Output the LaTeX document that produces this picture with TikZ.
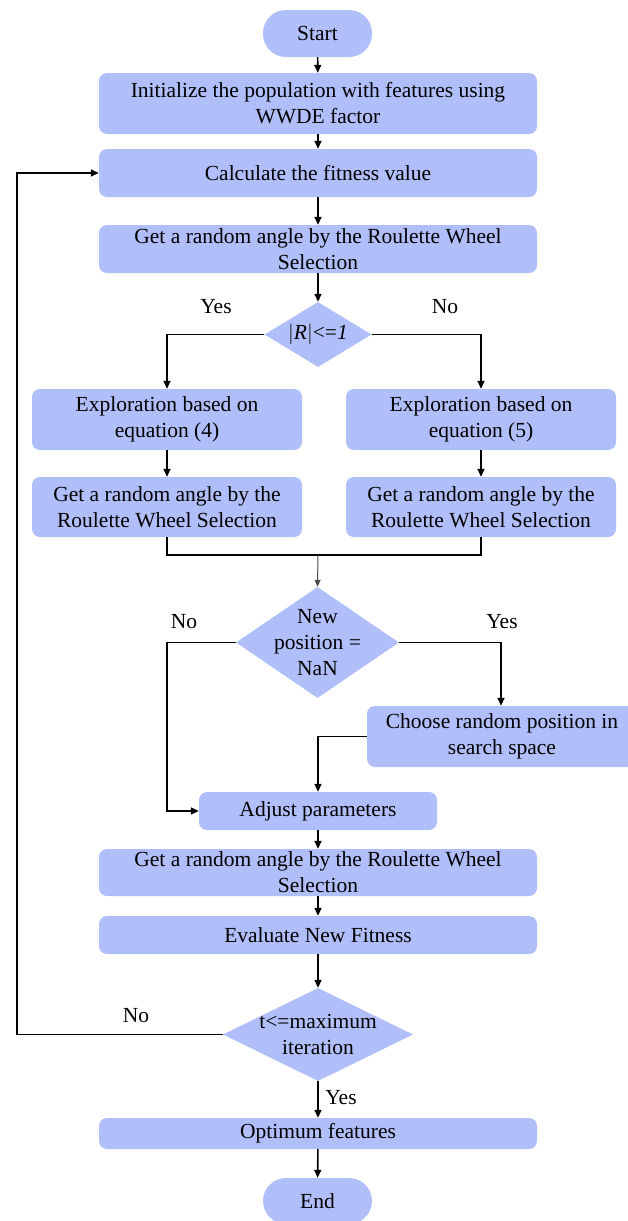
\documentclass[tikz,border=0pt]{standalone}
\usepackage{fontspec}
\setmainfont{Liberation Serif}
\usetikzlibrary{shapes.geometric,arrows.meta}
\definecolor{boxfill}{RGB}{176,190,250}
\begin{document}
\begin{tikzpicture}[x=1pt,y=-1pt,
  every node/.style={font=\fontsize{21.5}{26}\selectfont},
  procbox/.style={draw=none,fill=boxfill,rounded corners=8pt,align=center,inner sep=0pt},
  termbox/.style={draw=none,fill=boxfill,rounded corners=23pt,align=center,inner sep=0pt,minimum width=109pt},
  decbox/.style={draw=none,fill=boxfill,diamond,inner sep=0pt},
  conn/.style={line width=1.6pt,-{Triangle[length=8pt,width=7pt]}},
  plain/.style={line width=1.6pt},
  lbl/.style={inner sep=0pt}]
\useasboundingbox (0,0) rectangle (627,1221);
\node[termbox,minimum height=47pt] (start) at (317.5,33.5) {Start};
\node[procbox,minimum width=438pt,minimum height=61pt] (init) at (318,103.5) {Initialize the population with features using\\WWDE factor};
\node[procbox,minimum width=438pt,minimum height=48pt] (calc) at (318,173) {Calculate the fitness value};
\node[procbox,minimum width=438pt,minimum height=48pt] (rws1) at (318,249) {Get a random angle by the Roulette Wheel\\Selection};
\node[decbox,minimum width=107pt,minimum height=65pt,label={center:$|$\textit{R}$|$<=\textit{1}}] (dR) at (318,334.5) {};
\node[procbox,minimum width=270pt,minimum height=61pt] (exL) at (167,419.5) {Exploration based on\\equation (4)};
\node[procbox,minimum width=270pt,minimum height=61pt] (exR) at (481,419.5) {Exploration based on\\equation (5)};
\node[procbox,minimum width=270pt,minimum height=60pt] (rwsL) at (167,507) {Get a random angle by the\\Roulette Wheel Selection};
\node[procbox,minimum width=270pt,minimum height=60pt] (rwsR) at (481,507) {Get a random angle by the\\Roulette Wheel Selection};
\coordinate (mL) at (167,555);
\coordinate (mR) at (481,555);
\coordinate (mC) at (318,555);
\node[decbox,minimum width=163pt,minimum height=111pt,label={[align=center,font=\fontsize{21.5}{26}\selectfont]center:New\\position =\\NaN}] (dN) at (317.5,642.5) {};
\node[procbox,minimum width=270pt,minimum height=61pt] (choose) at (502,736.5) {Choose random position in\\search space};
\node[procbox,minimum width=238pt,minimum height=38pt] (adjust) at (318,811) {Adjust parameters};
\node[procbox,minimum width=438pt,minimum height=47pt] (rws2) at (318,872.5) {Get a random angle by the Roulette Wheel\\Selection};
\node[procbox,minimum width=438pt,minimum height=38pt] (eval) at (318,935) {Evaluate New Fitness};
\node[decbox,minimum width=190pt,minimum height=93pt,label={[align=center,font=\fontsize{21.5}{26}\selectfont]center:t<=maximum\\iteration}] (dT) at (318,1034.5) {};
\node[procbox,minimum width=438pt,minimum height=31pt] (opt) at (318,1133.5) {Optimum features};
\node[termbox,minimum height=46pt] (end) at (317.5,1201) {End};
% labels
\node[lbl] (yes1) at (216,307) {Yes};
\node[lbl] (no1) at (445,307) {No};
\node[lbl] (no2) at (184,622) {No};
\node[lbl] (yes2) at (502,622) {Yes};
\node[lbl] (no3) at (136,1016) {No};
\node[lbl] (yes3) at (341,1098) {Yes};
% connectors
\draw[conn] (start) -- (init);
\draw[conn] (init) -- (calc);
\draw[conn] (calc) -- (rws1);
\draw[conn] (rws1) -- (dR);
\draw[conn] (dR.west) -| (exL.north);
\draw[conn] (dR.east) -| (exR.north);
\draw[conn] (exL) -- (rwsL);
\draw[conn] (exR) -- (rwsR);
\draw[plain] (rwsL.south) -- (mL) -- (mR) -- (rwsR.south);
\draw[line width=1pt,draw=black!70,-{Triangle[length=7pt,width=6pt]}] (mC) -- (dN.north);
\draw[conn] (dN.east) -| (choose.north -| 501,0);
\draw[conn] (dN.west) -- (167,642.5) |- (adjust.west);
\draw[conn] (choose.west) -| (adjust.north);
\draw[conn] (adjust) -- (rws2);
\draw[conn] (rws2) -- (eval);
\draw[conn] (eval) -- (dT);
\draw[conn] (dT.west) -- (17,1034.5) |- (calc.west);
\draw[conn] (dT) -- (opt);
\draw[conn] (opt) -- (end);
\end{tikzpicture}
\end{document}
